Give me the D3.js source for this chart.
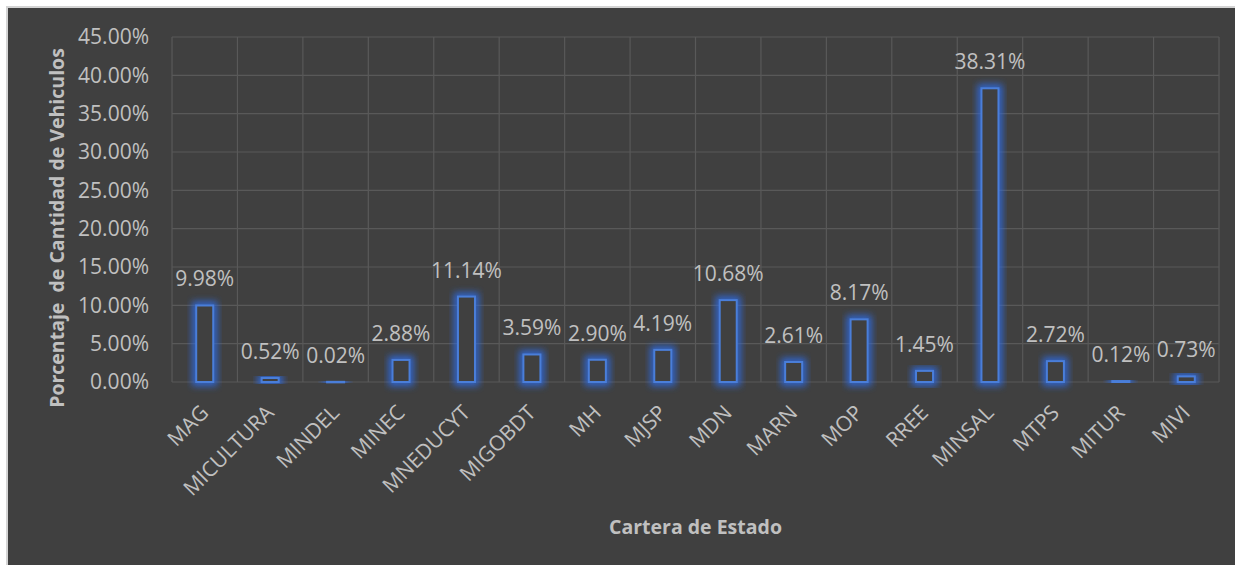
<!DOCTYPE html>
<html>
<head>
<meta charset="utf-8">
<script src="https://cdn.jsdelivr.net/npm/d3@7"></script>
<style>
  body { margin: 0; background: #ffffff; }
  text { font-family: "Open Sans", "DejaVu Sans", sans-serif; }
</style>
</head>
<body>
<script>
// data
const categories = ['MAG', 'MICULTURA', 'MINDEL', 'MINEC', 'MNEDUCYT', 'MIGOBDT', 'MH', 'MJSP',
  'MDN', 'MARN', 'MOP', 'RREE', 'MINSAL', 'MTPS', 'MITUR', 'MIVI']
const percentages = [9.98, 0.52, 0.02, 2.88, 11.14, 3.59, 2.90, 4.19,
  10.68, 2.61, 8.17, 1.45, 38.31, 2.72, 0.12, 0.73]
const yTicks = [0, 5, 10, 15, 20, 25, 30, 35, 40, 45]

const width = 1235
const height = 565
const plot = { left: 172, right: 1219, top: 37, bottom: 382 }
const textColor = '#c0c0c0'

let svg = d3
  .select('body')
  .append('svg')
  .attr('width', width)
  .attr('height', height)

// glow for the bar outlines
let defs = svg.append('defs')
let glow = defs.append('filter')
  .attr('id', 'glow')
  .attr('x', '-50%').attr('y', '-50%')
  .attr('width', '200%').attr('height', '200%')
glow.append('feGaussianBlur')
  .attr('stdDeviation', 3.5)

// chart frame
svg.append('rect')
  .attr('x', 6).attr('y', 6)
  .attr('width', width - 6).attr('height', height - 6)
  .attr('fill', '#d4d4d4')
svg.append('rect')
  .attr('x', 8).attr('y', 8)
  .attr('width', width - 8).attr('height', height - 8)
  .attr('fill', '#404040')

let x = d3
  .scaleBand()
  .domain(categories)
  .range([plot.left, plot.right])

let y = d3
  .scaleLinear()
  .domain([0, 45])
  .range([plot.bottom, plot.top])

// gridlines
let grid = svg.append('g')
grid.selectAll('line.h')
  .data(yTicks)
  .join('line')
  .attr('class', 'h')
  .attr('x1', plot.left).attr('x2', plot.right)
  .attr('y1', d => y(d)).attr('y2', d => y(d))
  .attr('stroke', '#595959')
  .attr('stroke-width', 1.2)

grid.selectAll('line.v')
  .data(categories.map(c => x(c)).concat([plot.right]))
  .join('line')
  .attr('class', 'v')
  .attr('x1', d => d).attr('x2', d => d)
  .attr('y1', plot.top).attr('y2', plot.bottom)
  .attr('stroke', '#595959')
  .attr('stroke-width', 1.2)

// y axis labels
let yAxis = d3.axisLeft(y)
  .tickValues(yTicks)
  .tickFormat(d => d3.format('.2f')(d) + '%')
  .tickSize(0)
  .tickPadding(23)

let yg = svg.append('g')
  .attr('transform', `translate(${plot.left},0)`)
  .call(yAxis)
yg.select('.domain').remove()
yg.selectAll('text')
  .attr('fill', textColor)
  .style('font-size', '21px')

// bars
const barW = x.bandwidth() * 0.26
let bars = svg.append('g')

bars.selectAll('rect.glow')
  .data(percentages)
  .join('rect')
  .attr('class', 'glow')
  .attr('x', (d, i) => x(categories[i]) + x.bandwidth() / 2 - barW / 2)
  .attr('y', d => y(d))
  .attr('width', barW)
  .attr('height', d => Math.max(0.5, y(0) - y(d)))
  .attr('fill', 'none')
  .attr('stroke', '#2f6ae0')
  .attr('stroke-width', 8)
  .attr('opacity', 0.9)
  .attr('filter', 'url(#glow)')

bars.selectAll('rect.bar')
  .data(percentages)
  .join('rect')
  .attr('class', 'bar')
  .attr('x', (d, i) => x(categories[i]) + x.bandwidth() / 2 - barW / 2)
  .attr('y', d => y(d))
  .attr('width', barW)
  .attr('height', d => Math.max(0.5, y(0) - y(d)))
  .attr('fill', '#404040')
  .attr('stroke', '#4a7ed9')
  .attr('stroke-width', 2)

// value labels
bars.selectAll('text')
  .data(percentages)
  .join('text')
  .attr('x', (d, i) => x(categories[i]) + x.bandwidth() / 2)
  .attr('y', d => y(d) - 19)
  .attr('text-anchor', 'middle')
  .attr('fill', textColor)
  .style('font-size', '21px')
  .text(d => d3.format('.2f')(d) + '%')

// category labels
svg.append('g')
  .selectAll('text')
  .data(categories)
  .join('text')
  .attr('transform', d => `translate(${x(d) + x.bandwidth() / 2 + 5},${plot.bottom + 32}) rotate(-45)`)
  .attr('text-anchor', 'end')
  .attr('fill', textColor)
  .style('font-size', '21px')
  .text(d => d)

// axis titles
svg.append('text')
  .attr('x', (plot.left + plot.right) / 2)
  .attr('y', 534)
  .attr('text-anchor', 'middle')
  .attr('fill', textColor)
  .style('font-size', '19.5px')
  .style('font-weight', 'bold')
  .text('Cartera de Estado')

svg.append('text')
  .attr('transform', 'translate(64,228) rotate(-90)')
  .attr('text-anchor', 'middle')
  .attr('fill', textColor)
  .style('font-size', '19.5px')
  .style('font-weight', 'bold')
  .style('white-space', 'pre')
  .text('Porcentaje  de Cantidad de Vehiculos')
</script>
</body>
</html>
